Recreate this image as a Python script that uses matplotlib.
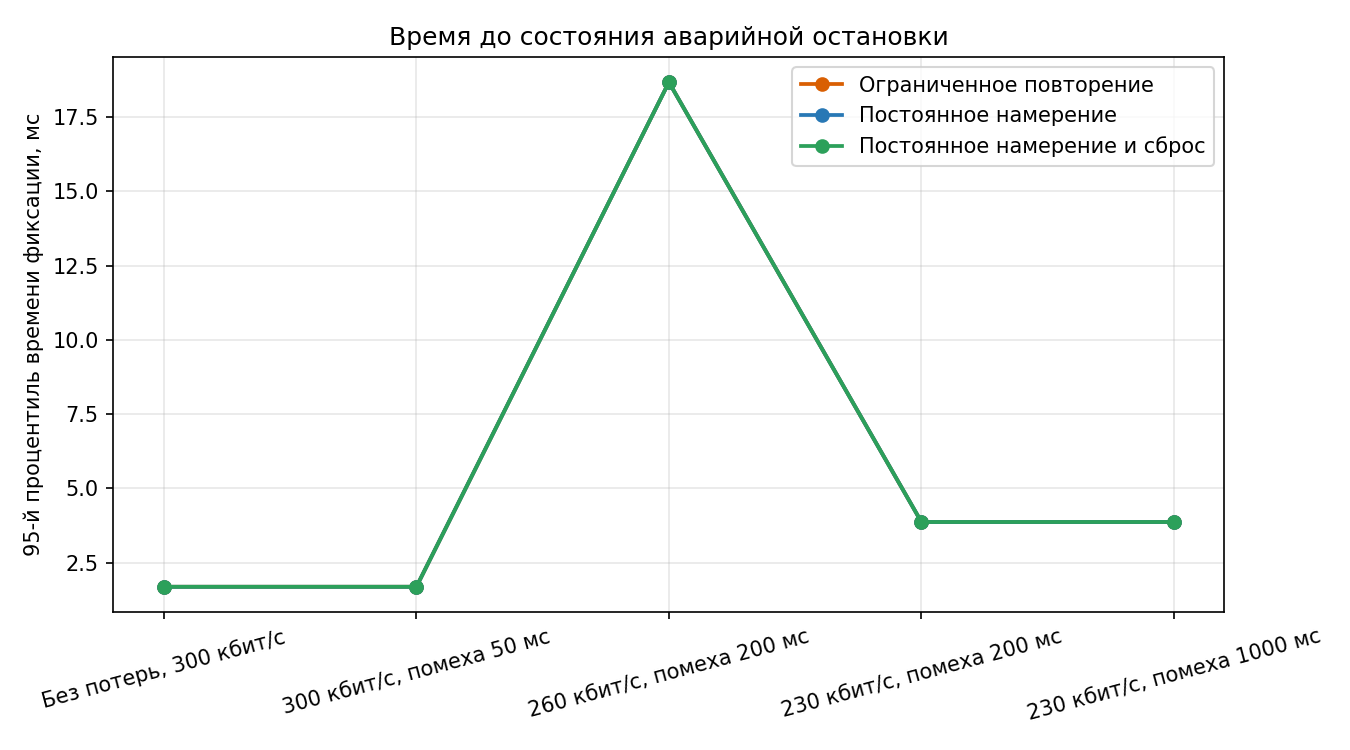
import matplotlib
matplotlib.use('Agg')
import matplotlib.pyplot as plt

# данные
scenarios = ['Без потерь, 300 кбит/с', '300 кбит/с, помеха 50 мс', '260 кбит/с, помеха 200 мс',
             '230 кбит/с, помеха 200 мс', '230 кбит/с, помеха 1000 мс']
limited_retry = [1.69, 1.69, 18.67, 3.87, 3.87]
persistent_intent = [1.69, 1.69, 18.67, 3.87, 3.87]
persistent_reset = [1.69, 1.69, 18.67, 3.87, 3.87]

series = [
    ('Ограниченное повторение', limited_retry, '#d95f02'),
    ('Постоянное намерение', persistent_intent, '#2878b5'),
    ('Постоянное намерение и сброс', persistent_reset, '#2ca05a'),
]

fig, ax = plt.subplots(figsize=(9, 5), dpi=150)
x = list(range(len(scenarios)))
for label, vals, color in series:
    ax.plot(x, vals, marker='o', color=color, linewidth=1.8, markersize=6, label=label)

ax.set_xticks(x)
ax.set_xticklabels(scenarios, rotation=15)
ax.set_ylabel('95-й процентиль времени фиксации, мс')
ax.set_title('Время до состояния аварийной остановки')
ax.grid(True, alpha=0.3)
ax.legend(loc='upper right')

fig.subplots_adjust(left=0.084, right=0.907, top=0.924, bottom=0.184)
fig.savefig('out.png', dpi=150)
